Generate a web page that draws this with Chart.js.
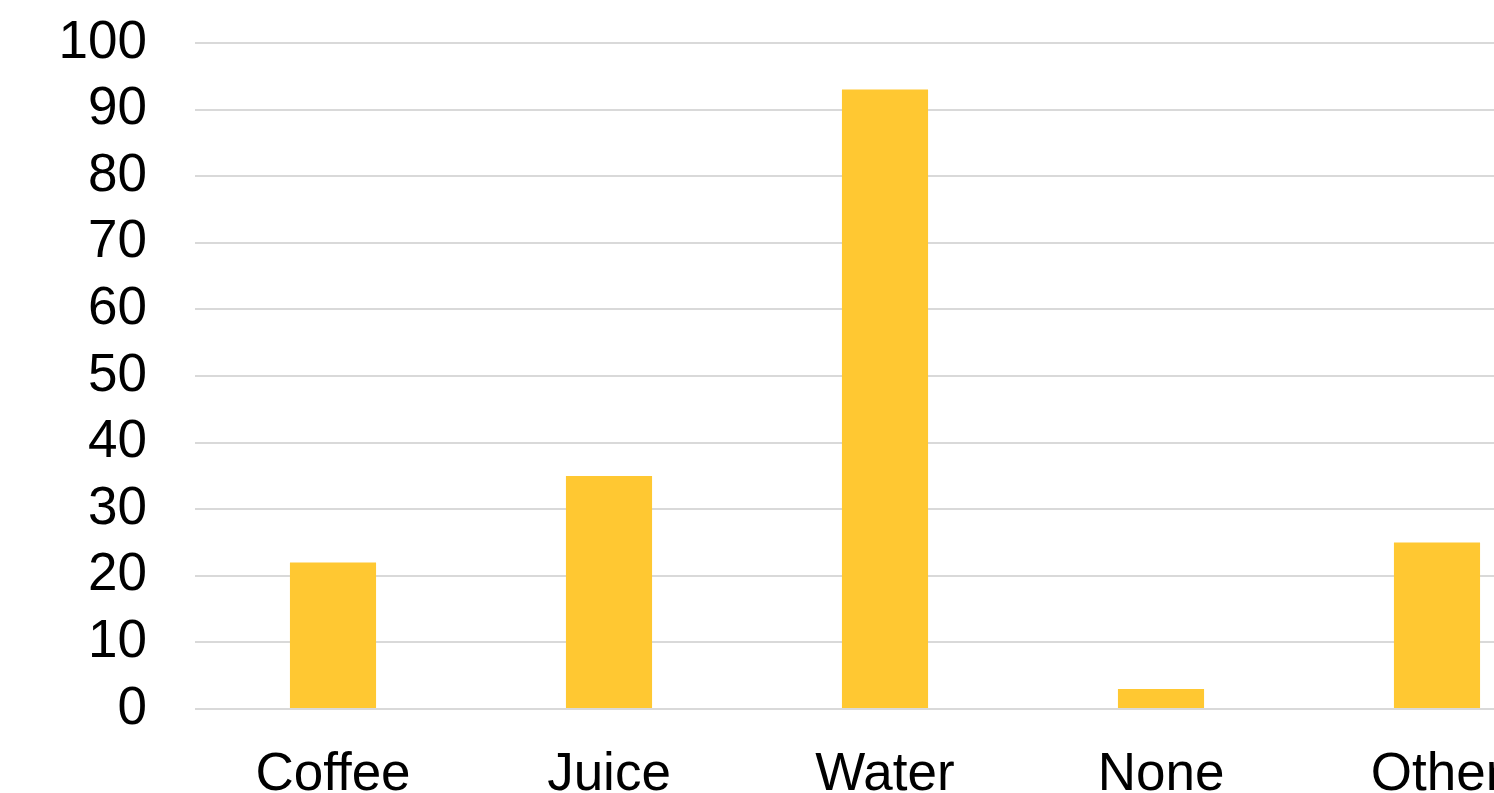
<!DOCTYPE html>
<html>
<head>
<meta charset="utf-8">
<script src="https://cdn.jsdelivr.net/npm/chart.js@4"></script>
<style>
  html, body { margin: 0; padding: 0; overflow: hidden; background: #fff; }
  #wrap { width: 1494px; height: 793px; overflow: hidden; }
</style>
</head>
<body>
<div id="wrap"><canvas id="myChart" width="1600" height="793"></canvas></div>
<script>
const labels = ['Coffee', 'Juice', 'Water', 'None', 'Other'];
const values = [22, 35, 93, 3, 25];
const yTicks = [0, 10, 20, 30, 40, 50, 60, 70, 80, 90, 100];

const data = {
  labels: labels,
  datasets: [{
    label: 'Drinks',
    backgroundColor: '#FFC832',
    data: values,
    barPercentage: 0.312,
    categoryPercentage: 1
  }]
};

const config = {
  type: 'bar',
  data: data,
  options: {
    responsive: false,
    animation: false,
    layout: { padding: { top: 43, right: 25, left: 0, bottom: 0 } },
    plugins: { legend: { display: false }, tooltip: { enabled: false } },
    scales: {
      x: {
        grid: { display: false },
        border: { display: false },
        ticks: {
          color: '#000',
          padding: 27,
          font: { family: 'Liberation Sans, Arial, sans-serif', size: 53 }
        },
        afterFit: function (axis) { axis.height = 84; }
      },
      y: {
        min: 0,
        max: 100,
        afterBuildTicks: function (axis) {
          axis.ticks = yTicks.map(v => ({ value: v }));
        },
        grid: { color: '#D9D9D9', lineWidth: 2, drawTicks: false },
        border: { display: false },
        ticks: {
          color: '#000',
          padding: 48,
          autoSkip: false,
          font: { family: 'Liberation Sans, Arial, sans-serif', size: 53 }
        },
        afterFit: function (axis) {
          axis.width = 195;
          axis.paddingTop = 0;
          axis.paddingBottom = 0;
        }
      }
    }
  }
};

const myChart = new Chart(
  document.getElementById('myChart'),
  config
);
</script>
</body>
</html>
